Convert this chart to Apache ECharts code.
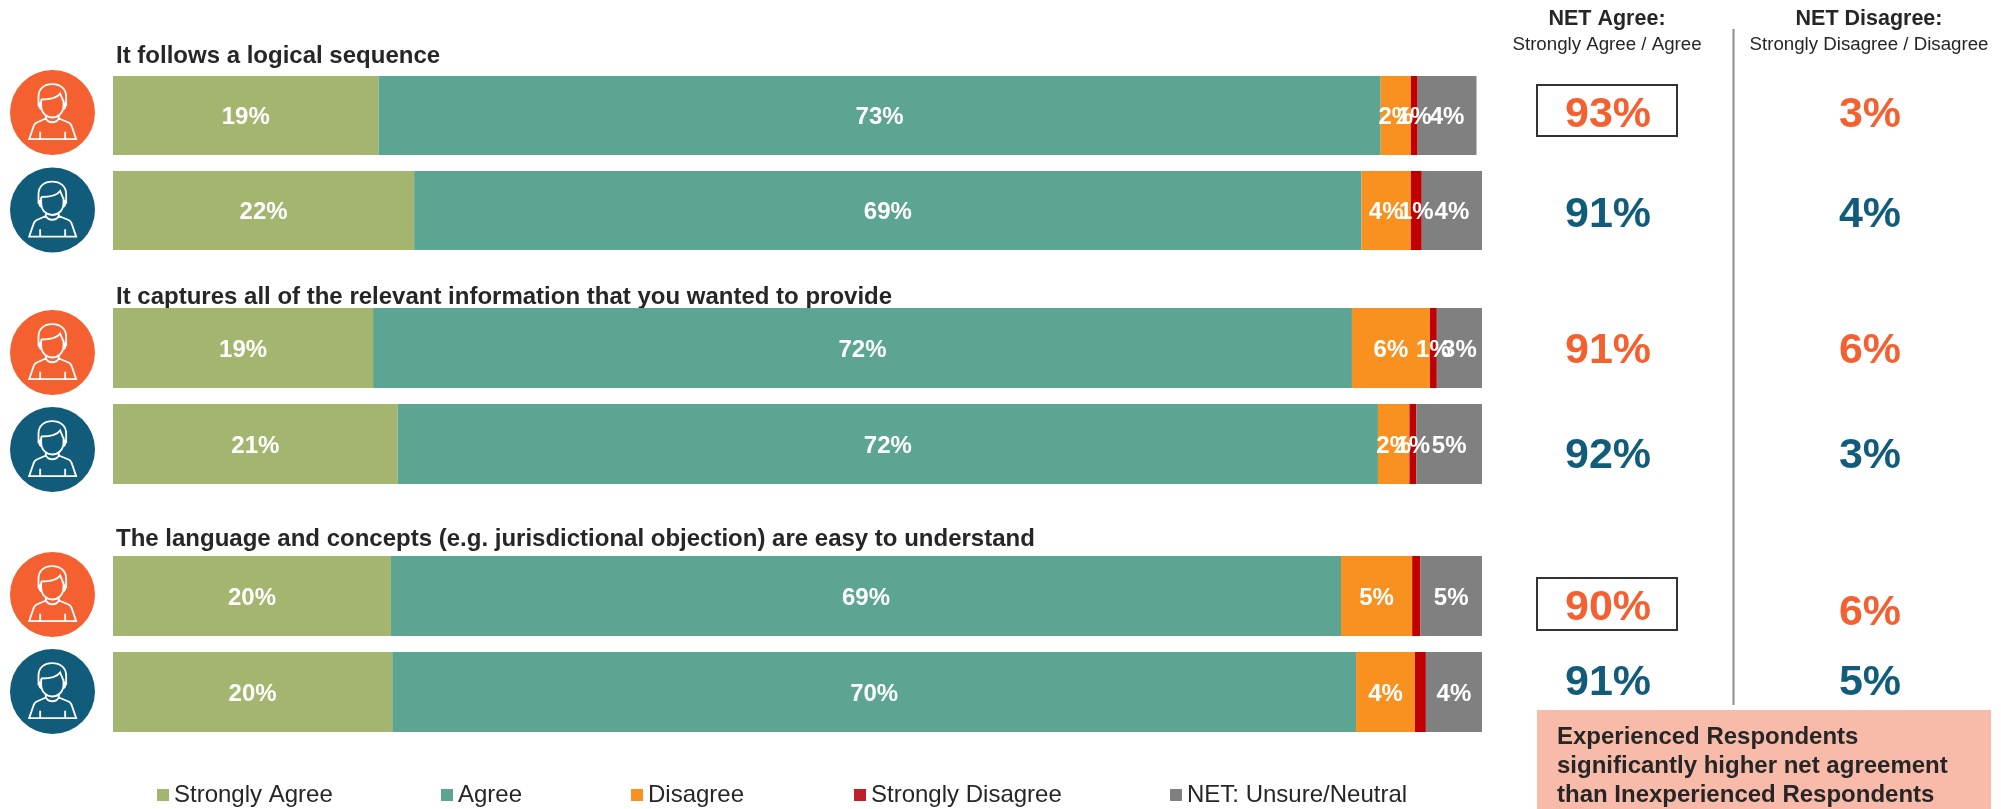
<!DOCTYPE html>
<html>
<head>
<meta charset="utf-8">
<style>html,body{margin:0;padding:0;background:#fff}#chart{width:2001px;height:809px}</style>
<script src="https://cdn.jsdelivr.net/npm/echarts@6/dist/echarts.min.js"></script>
</head>
<body>
<div id="chart"></div>
<script>
// Survey responses: two respondent groups per statement, in percent.
const statements = [
  'It follows a logical sequence',
  'It captures all of the relevant information that you wanted to provide',
  'The language and concepts (e.g. jurisdictional objection) are easy to understand'
];
const groups = ['Experienced', 'Inexperienced'];
const seriesNames = ['Strongly Agree', 'Agree', 'Disagree', 'Strongly Disagree', 'NET: Unsure/Neutral'];
const strongAgree    = [19.4, 22.0, 19.0, 20.8, 20.3, 20.4];
const agree          = [73.2, 69.2, 71.5, 71.6, 69.4, 70.4];
const disagree       = [2.2, 3.6, 5.7, 2.3, 5.2, 4.3];
const strongDisagree = [0.5, 0.8, 0.5, 0.5, 0.6, 0.8];
const unsure         = [4.3, 4.4, 3.3, 4.8, 4.5, 4.1];
const netAgree       = ['93%', '91%', '91%', '92%', '90%', '91%'];
const netDisagree    = ['3%', '4%', '6%', '3%', '6%', '5%'];
const calloutLines   = ['Experienced Respondents', 'significantly higher net agreement', 'than Inexperienced Respondents'];

const values = [strongAgree, agree, disagree, strongDisagree, unsure];
const colors = ['#A3B56F', '#5BA592', '#F99120', '#C00000', '#808080'];
const legendColors = ['#A3B56F', '#5BA592', '#F99120', '#C0202A', '#808080'];
const legendLeft = [157, 441, 631, 854, 1170];
const ORANGE = '#F46030', BLUE = '#125C7B', INK = '#262626';
const FONT = '"Liberation Sans", Arial, sans-serif';

// Layout of the three statement blocks
const blocks = [
  { top: 68, height: 190, barWidth: 79, titleY: 56 },
  { top: 300, height: 192, barWidth: 80, titleY: 297 },
  { top: 548, height: 192, barWidth: 80, titleY: 539 }
];
const grids = blocks.map(b => ({ left: 113, width: 1369, top: b.top, height: b.height }));
const xAxes = blocks.map((b, i) => ({ type: 'value', gridIndex: i, min: 0, max: 100, show: false }));
const yAxes = blocks.map((b, i) => ({ type: 'category', gridIndex: i, data: groups, inverse: true, show: false }));

const series = [];
blocks.forEach((b, g) => {
  seriesNames.forEach((name, s) => {
    series.push({
      type: 'bar',
      name,
      stack: 'block' + g,
      xAxisIndex: g,
      yAxisIndex: g,
      barWidth: b.barWidth,
      itemStyle: { color: colors[s] },
      // The last block leaves its Strongly Disagree segments unlabelled
      label: {
        show: !(g === 2 && s === 3),
        position: 'inside',
        color: '#fff',
        fontFamily: FONT,
        fontWeight: 'bold',
        fontSize: 24,
        formatter: p => Math.round(p.value) + '%'
      },
      labelLayout: { hideOverlap: false, dy: 2 },
      emphasis: { disabled: true },
      data: values[s].slice(g * 2, g * 2 + 2)
    });
  });
});

const legends = seriesNames.map((name, i) => ({
  data: [{ name, itemStyle: { color: legendColors[i] } }],
  left: legendLeft[i],
  top: 783,
  itemWidth: 12,
  itemHeight: 12,
  icon: 'rect',
  selectedMode: false,
  padding: 0,
  textStyle: { fontFamily: FONT, fontSize: 24, color: INK }
}));

// Outline of the respondent pictogram, centred on the origin of its badge
const personOutline =
  'M-42 -19 L-42 -47 C-42 -72 -25 -85 -1 -85 C23 -85 41 -72 41 -47 L41 -19 ' +
  'M-34 -39 C-12 -39 13 -42 23 -57 C27 -47 31 -39 33 -32 ' +
  'M-34 -39 L-34 -22 C-34 3 -17 15 -1 15 C15 15 33 3 33 -22 L33 -37 ' +
  'M-34 -29 C-41 -29 -42 -12 -32 -9 M33 -29 C40 -29 41 -12 31 -9 ' +
  'M-20 8 L-20 18 C-12 33 11 33 19 18 L19 8 ' +
  'M-20 18 L-47 30 C-54 33 -56 38 -58 45 L-70 80 L71 80 L59 45 C57 38 55 33 48 30 L19 18 ' +
  'M-37 58 L-37 80 M38 58 L38 80';
echarts.graphic.registerShape('personOutline', echarts.graphic.extendPath(personOutline, {}));

const badgeCentres = [112.5, 210, 352.5, 449.5, 594.5, 691.5];
const netRows = [115, 215, 351, 456, 608, 683];
const netDisagreeRows = [115, 215, 351, 456, 613, 683];
const centered = (text, x, y, size, weight, fill) => ({
  type: 'text', x, y, silent: true,
  style: { text, x: 0, y: 0, align: 'center', verticalAlign: 'middle', fontFamily: FONT, fontSize: size, fontWeight: weight, fill }
});

const graphics = [];
// Respondent badges
badgeCentres.forEach((cy, i) => {
  graphics.push({ type: 'circle', shape: { cx: 52.5, cy, r: 42.5 }, style: { fill: i % 2 ? BLUE : ORANGE }, silent: true });
  graphics.push({
    type: 'group', x: 52.5, y: cy, scaleX: 1 / 3, scaleY: 1 / 3, silent: true,
    children: [{ type: 'personOutline', style: { fill: 'none', stroke: '#fff', lineWidth: 5.5 } }]
  });
});
// Statement headings
statements.forEach((text, i) => graphics.push({
  type: 'text', x: 116, y: blocks[i].titleY, silent: true,
  style: { text, x: 0, y: 0, verticalAlign: 'middle', fontFamily: FONT, fontSize: 24, fontWeight: 'bold', fill: INK }
}));
// Column headers and divider
graphics.push(centered('NET Agree:', 1607, 19, 21.5, 'bold', INK));
graphics.push(centered('Strongly Agree / Agree', 1607, 45, 18.7, 'normal', INK));
graphics.push(centered('NET Disagree:', 1869, 19, 21.5, 'bold', INK));
graphics.push(centered('Strongly Disagree / Disagree', 1869, 45, 18.7, 'normal', INK));
graphics.push({ type: 'line', silent: true, shape: { x1: 1733.5, y1: 29, x2: 1733.5, y2: 705 }, style: { stroke: '#8C8C8C', lineWidth: 2 } });
// Net values
netAgree.forEach((t, i) => graphics.push(centered(t, 1608, netRows[i], 43, 'bold', i % 2 ? BLUE : ORANGE)));
netDisagree.forEach((t, i) => graphics.push(centered(t, 1870, netDisagreeRows[i], 43, 'bold', i % 2 ? BLUE : ORANGE)));
// Highlight boxes around significant differences
[[85, 51], [578, 52]].forEach(([y, h]) => graphics.push({
  type: 'rect', silent: true, shape: { x: 1537, y, width: 140, height: h }, style: { fill: 'none', stroke: '#333', lineWidth: 2 }
}));
// Callout
graphics.push({ type: 'rect', silent: true, shape: { x: 1537, y: 710, width: 454, height: 99 }, style: { fill: '#F9BBA9' } });
calloutLines.forEach((text, i) => graphics.push({
  type: 'text', x: 1557, y: 737 + i * 29, silent: true,
  style: { text, x: 0, y: 0, verticalAlign: 'middle', fontFamily: FONT, fontSize: 24, fontWeight: 'bold', fill: INK }
}));

const chart = echarts.init(document.getElementById('chart'), null, { renderer: 'canvas' });
chart.setOption({
  animation: false,
  backgroundColor: '#fff',
  tooltip: { show: false },
  grid: grids,
  xAxis: xAxes,
  yAxis: yAxes,
  legend: legends,
  series,
  graphic: { elements: graphics }
});
</script>
</body>
</html>
